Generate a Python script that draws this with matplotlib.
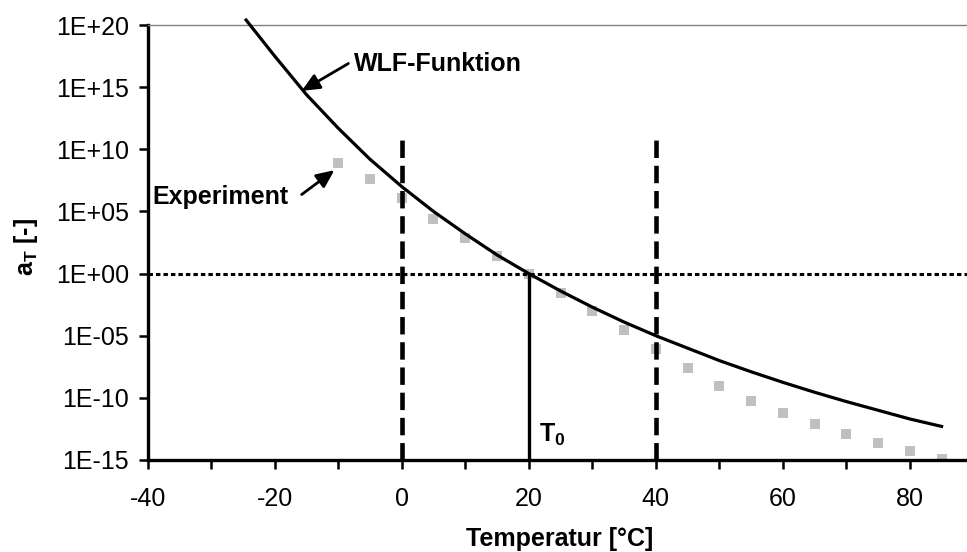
import matplotlib
matplotlib.use("Agg")
import matplotlib.pyplot as plt
from matplotlib.ticker import FixedLocator, FixedFormatter, MultipleLocator, NullFormatter

plt.rcParams["font.family"] = ["Liberation Sans", "DejaVu Sans"]
plt.rcParams["mathtext.fontset"] = "custom"
plt.rcParams["mathtext.rm"] = "Liberation Sans"
plt.rcParams["mathtext.bf"] = "Liberation Sans:bold"
plt.rcParams["axes.unicode_minus"] = False

# WLF curve, log10(aT)
wlf_temp = [-24.5, -20, -15, -10, -5, 0, 5, 10, 15, 20, 25, 30, 35, 40,
            45, 50, 55, 60, 65, 70, 75, 80, 85]
wlf_log = [20.4, 17.5, 14.4, 11.7, 9.2, 7.0, 5.0, 3.2, 1.5, 0.0, -1.4, -2.7,
           -3.9, -5.0, -6.0, -7.0, -7.9, -8.75, -9.55, -10.3, -11.0, -11.7, -12.3]

# measured points (grey squares)
exp_temp = [-10, -5, 0, 5, 10, 15, 20, 25, 30, 35, 40, 45, 50, 55, 60, 65,
            70, 75, 80, 85]
exp_log = [8.86, 7.57, 6.09, 4.43, 2.90, 1.42, 0.0, -1.53, -3.04, -4.56,
           -6.09, -7.6, -9.05, -10.26, -11.22, -12.13, -12.88, -13.61,
           -14.29, -14.96]

y_ticks = [1e-15, 1e-10, 1e-5, 1e0, 1e5, 1e10, 1e15, 1e20]
y_labels = ["1E-15", "1E-10", "1E-05", "1E+00", "1E+05", "1E+10", "1E+15", "1E+20"]
x_major = [-40, -20, 0, 20, 40, 60, 80]

t_ref = 20
t_limits = [0, 40]
dash_top = 2e11

fig = plt.figure(figsize=(9.67, 5.52), dpi=100)
ax = fig.add_axes([0.1527, 0.1667, 0.8473, 0.788])

ax.plot(exp_temp, [10 ** v for v in exp_log], "s", color="#c0c0c0",
        markersize=7.6, markeredgewidth=0, zorder=2)
ax.plot(wlf_temp, [10 ** v for v in wlf_log], "-", color="black", lw=2.3,
        zorder=4, clip_on=False)

# reference lines
ax.axhline(1, color="black", lw=2.2, dashes=(1.45, 1.0), zorder=3)
for t in t_limits:
    ax.plot([t, t], [1e-15, dash_top], color="black", lw=3.3,
            dashes=(3.8, 1.7), zorder=3)
ax.plot([t_ref, t_ref], [1e-15, 1], color="black", lw=2.4, zorder=3)

ax.set_yscale("log")
ax.set_xlim(-40, 89)
ax.set_ylim(1e-15, 1e20)

ax.yaxis.set_major_locator(FixedLocator(y_ticks))
ax.yaxis.set_major_formatter(FixedFormatter(y_labels))
ax.yaxis.set_minor_locator(FixedLocator([]))
ax.xaxis.set_major_locator(FixedLocator(x_major))
ax.xaxis.set_minor_locator(MultipleLocator(10))
ax.xaxis.set_minor_formatter(NullFormatter())

ax.tick_params(axis="both", which="both", direction="out", length=6.5,
               width=1.8, labelsize=18, color="black")
ax.tick_params(axis="y", pad=7)
ax.tick_params(axis="x", pad=13)

ax.spines["right"].set_visible(False)
ax.spines["top"].set_color("#808080")
ax.spines["top"].set_linewidth(1)
ax.spines["left"].set_linewidth(2.4)
ax.spines["bottom"].set_linewidth(2.4)

arrow = dict(arrowstyle="-|>,head_length=0.6,head_width=0.27", color="black",
             lw=2, mutation_scale=18, shrinkA=0, shrinkB=0)
ax.annotate("", xy=(-15.75, 10 ** 14.7), xytext=(-8.4, 10 ** 16.9),
            arrowprops=arrow)
ax.text(-7.5, 10 ** 16.9, "WLF-Funktion", fontsize=18, fontweight="bold",
        ha="left", va="center")
ax.annotate("", xy=(-10.6, 10 ** 8.32), xytext=(-15.75, 10 ** 6.36),
            arrowprops=arrow)
ax.text(-39.2, 10 ** 6.17, "Experiment", fontsize=18, fontweight="bold",
        ha="left", va="center")
ax.text(21.6, 10 ** -13.56, r"$\mathbf{T_0}$", fontsize=18, ha="left",
        va="baseline")

fig.text(560 / 967, 1 - 539 / 552, "Temperatur [°C]", fontsize=18,
         fontweight="bold", ha="center", va="center")
fig.text(26 / 967, 1 - 247 / 552, r"$\mathbf{a_T}$ [-]", fontsize=18,
         fontweight="bold", ha="center", va="center", rotation=90)

fig.savefig("out.png", dpi=100)
